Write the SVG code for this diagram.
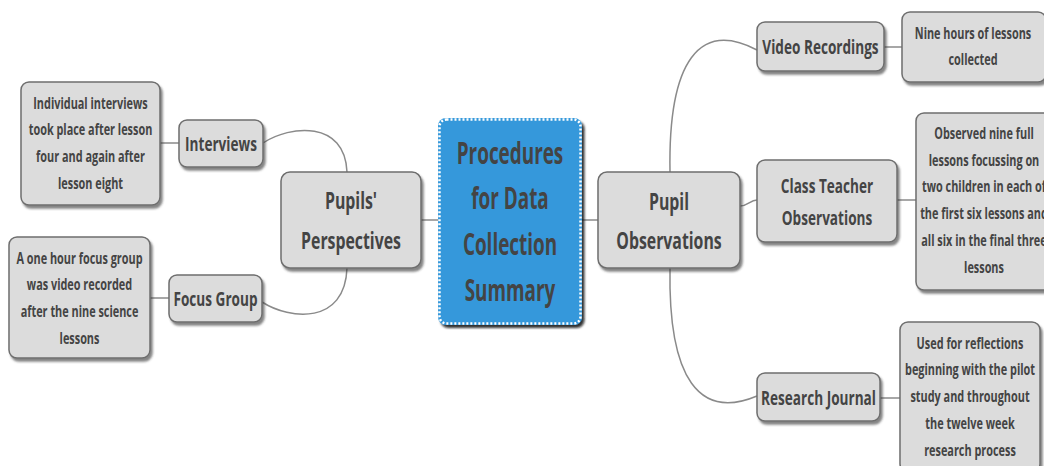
<svg xmlns="http://www.w3.org/2000/svg" width="1044" height="466" viewBox="0 0 1044 466">
<defs>
<filter id="sh" x="-10%" y="-10%" width="130%" height="130%">
<feDropShadow dx="2" dy="3" stdDeviation="1.2" flood-color="#333" flood-opacity="0.6"/>
</filter>
<filter id="shc" x="-10%" y="-10%" width="130%" height="130%">
<feDropShadow dx="2.5" dy="3" stdDeviation="0.8" flood-color="#111" flood-opacity="0.85"/>
</filter>
<style>
.n{fill:#dcdcdc;stroke:#6e6e6e;stroke-width:1.5;filter:url(#sh)}
.t{font-family:"Open Sans","Liberation Sans",sans-serif;font-weight:bold;fill:#444;text-anchor:middle}
.c{fill:none;stroke:#8a8a8a;stroke-width:1.5}
.f30{font-size:30px}.f24{font-size:24px}.f20{font-size:20px}.f16{font-size:16.5px}
</style>
</defs>
<rect width="1044" height="466" fill="#fff"/>
<g id="connectors">
<line class="c" x1="421" y1="220" x2="438" y2="220"/>
<line class="c" x1="582" y1="220" x2="598" y2="220"/>
<path class="c" d="M263,143 C290,125 345,120 347,172"/>
<path class="c" d="M262,302 C290,320 345,325 347,268"/>
<path class="c" d="M670,172 C668,60 700,20 757,50"/>
<path class="c" d="M670,268 C668,380 700,420 757,396"/>
<path class="c" d="M740,206 C748,206 750,200 757,200"/>
<line class="c" x1="160" y1="143" x2="179" y2="143"/>
<line class="c" x1="150" y1="298" x2="169" y2="298"/>
<line class="c" x1="884" y1="47" x2="902" y2="47"/>
<line class="c" x1="897" y1="200" x2="916" y2="200"/>
<line class="c" x1="880" y1="398" x2="900" y2="398"/>
</g>
<g id="center">
<rect x="438" y="118" width="144" height="207" rx="8" fill="#3498db" filter="url(#shc)"/>
<rect x="439.5" y="119.5" width="141" height="204" rx="7" fill="none" stroke="#fff" stroke-width="2.5" stroke-dasharray="2 2"/>
<g class="t f30">
<text transform="translate(510 0) scale(0.63 1)" y="164">Procedures</text>
<text transform="translate(510 0) scale(0.63 1)" y="209">for Data</text>
<text transform="translate(510 0) scale(0.63 1)" y="255">Collection</text>
<text transform="translate(510 0) scale(0.63 1)" y="301">Summary</text>
</g>
</g>
<g id="pupils-perspectives">
<rect class="n" x="281" y="172" width="140" height="96" rx="9"/>
<g class="t f24">
<text transform="translate(351 0) scale(0.66 1)" y="209">Pupils'</text>
<text transform="translate(351 0) scale(0.66 1)" y="249">Perspectives</text>
</g>
</g>
<g id="pupil-observations">
<rect class="n" x="598" y="172" width="142" height="96" rx="9"/>
<g class="t f24">
<text transform="translate(669 0) scale(0.66 1)" y="210">Pupil</text>
<text transform="translate(669 0) scale(0.66 1)" y="249">Observations</text>
</g>
</g>
<g id="interviews">
<rect class="n" x="179" y="120" width="84" height="47" rx="8"/>
<text class="t f20" transform="translate(221 0) scale(0.68 1)" y="151">Interviews</text>
</g>
<g id="focus-group">
<rect class="n" x="169" y="275" width="93" height="47" rx="8"/>
<text class="t f20" transform="translate(215.5 0) scale(0.68 1)" y="306">Focus Group</text>
</g>
<g id="interviews-detail">
<rect class="n" x="21" y="82" width="139" height="123" rx="8"/>
<g class="t f16">
<text transform="translate(90.5 0) scale(0.66 1)" y="109">Individual interviews</text>
<text transform="translate(90.5 0) scale(0.66 1)" y="135">took place after lesson</text>
<text transform="translate(90.5 0) scale(0.66 1)" y="162">four and again after</text>
<text transform="translate(90.5 0) scale(0.66 1)" y="189">lesson eight</text>
</g>
</g>
<g id="focus-detail">
<rect class="n" x="9" y="237" width="141" height="121" rx="8"/>
<g class="t f16">
<text transform="translate(79.5 0) scale(0.66 1)" y="264">A one hour focus group</text>
<text transform="translate(79.5 0) scale(0.66 1)" y="290">was video recorded</text>
<text transform="translate(79.5 0) scale(0.66 1)" y="317">after the nine science</text>
<text transform="translate(79.5 0) scale(0.66 1)" y="344">lessons</text>
</g>
</g>
<g id="video-recordings">
<rect class="n" x="757" y="22" width="127" height="49" rx="8"/>
<text class="t f20" transform="translate(820.5 0) scale(0.68 1)" y="54">Video Recordings</text>
</g>
<g id="video-detail">
<rect class="n" x="902" y="12" width="144" height="70" rx="8"/>
<g class="t f16">
<text transform="translate(973 0) scale(0.66 1)" y="39">Nine hours of lessons</text>
<text transform="translate(973 0) scale(0.66 1)" y="65">collected</text>
</g>
</g>
<g id="class-teacher">
<rect class="n" x="757" y="160" width="140" height="82" rx="8"/>
<g class="t f20">
<text transform="translate(827 0) scale(0.68 1)" y="193">Class Teacher</text>
<text transform="translate(827 0) scale(0.68 1)" y="225">Observations</text>
</g>
</g>
<g id="class-teacher-detail">
<rect class="n" x="916" y="113" width="136" height="177" rx="8"/>
<g class="t f16">
<text transform="translate(984 0) scale(0.66 1)" y="139">Observed nine full</text>
<text transform="translate(984 0) scale(0.66 1)" y="166">lessons focussing on</text>
<text transform="translate(984 0) scale(0.66 1)" y="192">two children in each of</text>
<text transform="translate(984 0) scale(0.66 1)" y="219">the first six lessons and</text>
<text transform="translate(984 0) scale(0.66 1)" y="246">all six in the final three</text>
<text transform="translate(984 0) scale(0.66 1)" y="273">lessons</text>
</g>
</g>
<g id="research-journal">
<rect class="n" x="757" y="373" width="123" height="48" rx="8"/>
<text class="t f20" transform="translate(818.5 0) scale(0.68 1)" y="405">Research Journal</text>
</g>
<g id="research-detail">
<rect class="n" x="900" y="322" width="140" height="150" rx="8"/>
<g class="t f16">
<text transform="translate(970 0) scale(0.66 1)" y="349">Used for reflections</text>
<text transform="translate(970 0) scale(0.66 1)" y="375">beginning with the pilot</text>
<text transform="translate(970 0) scale(0.66 1)" y="402">study and throughout</text>
<text transform="translate(970 0) scale(0.66 1)" y="429">the twelve week</text>
<text transform="translate(970 0) scale(0.66 1)" y="456">research process</text>
</g>
</g>
</svg>
